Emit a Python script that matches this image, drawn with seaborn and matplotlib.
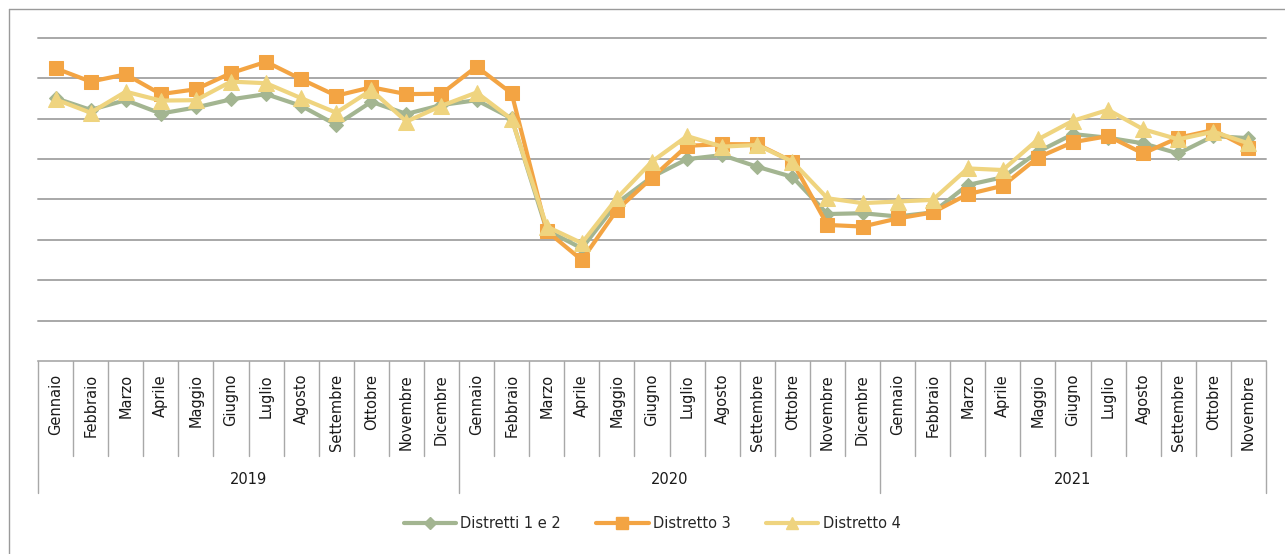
import matplotlib
matplotlib.use("Agg")
import matplotlib.pyplot as plt
import matplotlib.transforms as mtransforms
from matplotlib.lines import Line2D
import numpy as np
import pandas as pd
import seaborn as sns

# Month / year categories
months = ["Gennaio", "Febbraio", "Marzo", "Aprile", "Maggio", "Giugno",
          "Luglio", "Agosto", "Settembre", "Ottobre", "Novembre", "Dicembre"]
years = ["2019", "2020", "2021"]
months_per_year = [12, 12, 11]

# Series values (one per month)
distretti_1_2 = [65.1, 62.2, 64.6, 61.3, 62.8, 64.8, 66.1, 63.2, 58.5, 64.2, 61.2, 63.4,
                 64.6, 60.1, 32.4, 27.9, 39.1, 45.6, 50.0, 51.0, 48.1, 45.6, 36.4, 36.6,
                 35.8, 36.8, 43.6, 45.5, 51.8, 56.2, 55.3, 53.9, 51.4, 55.7, 55.2]
distretto_3 = [72.5, 69.2, 71.0, 66.1, 67.3, 71.3, 74.1, 69.8, 65.7, 67.8, 66.1, 66.2,
               72.9, 66.3, 32.2, 25.0, 37.4, 45.4, 53.3, 53.7, 53.7, 49.4, 33.7, 33.3,
               35.3, 36.8, 41.3, 43.4, 50.4, 54.2, 55.7, 51.4, 55.3, 57.2, 52.7]
distretto_4 = [64.8, 61.5, 66.7, 64.5, 64.6, 69.2, 68.8, 65.1, 61.5, 67.1, 59.3, 63.2,
               66.5, 59.9, 33.3, 29.2, 40.3, 49.4, 55.7, 53.1, 53.5, 49.4, 40.3, 39.1,
               39.5, 39.9, 47.7, 47.3, 54.9, 59.5, 62.2, 57.4, 54.9, 56.8, 53.9]

series_names = ["Distretti 1 e 2", "Distretto 3", "Distretto 4"]

month_labels = []
year_of = []
for y, n in zip(years, months_per_year):
    month_labels += months[:n]
    year_of += [y] * n
idx = np.arange(len(month_labels))

df = pd.DataFrame({
    "i": np.tile(idx, 3),
    "valore": distretti_1_2 + distretto_3 + distretto_4,
    "serie": np.repeat(series_names, len(idx)),
})

colors = {"Distretti 1 e 2": "#A3B591", "Distretto 3": "#F3A443", "Distretto 4": "#EFD47F"}
markers = {"Distretti 1 e 2": "D", "Distretto 3": "s", "Distretto 4": "^"}
msizes = {"Distretti 1 e 2": 7.5, "Distretto 3": 10, "Distretto 4": 11}

sns.set_style("white")
plt.rcParams["font.family"] = ["DejaVu Sans"]

fig = plt.figure(figsize=(12.85, 5.54), dpi=100)
ax = fig.add_axes([38 / 1285, 193 / 554, 1228 / 1285, 323 / 554])

for name in series_names:
    sns.lineplot(data=df[df["serie"] == name], x="i", y="valore", ax=ax,
                 color=colors[name], marker=markers[name], markersize=msizes[name],
                 markeredgecolor=colors[name], linewidth=3.0, label=name,
                 legend=False)

ax.set_xlim(-0.5, len(idx) - 0.5)
ax.set_ylim(0, 80)
ax.set_yticks(np.arange(10, 81, 10))
ax.yaxis.grid(True, color="#A8A8A8", linewidth=1.4)
ax.set_axisbelow(True)
ax.set_yticklabels([])
ax.tick_params(left=False, bottom=False, labelbottom=False)
ax.set_xticks([])
ax.set_xlabel("")
ax.set_ylabel("")
for s in ["left", "right", "top"]:
    ax.spines[s].set_visible(False)
ax.spines["bottom"].set_color("#A8A8A8")
ax.spines["bottom"].set_linewidth(1.2)
for gl in ax.get_ygridlines():
    gl.set_clip_on(False)

# Two-level category axis: month cells and year groups
trans = mtransforms.blended_transform_factory(ax.transData, ax.transAxes)
month_bottom = -95 / 323
year_bottom = -132 / 323
group_edges = np.cumsum([0] + months_per_year) - 0.5
for b in np.arange(len(idx) + 1) - 0.5:
    low = year_bottom if np.any(np.isclose(group_edges, b)) else month_bottom
    ax.plot([b, b], [0, low], transform=trans, color="#A8A8A8",
            linewidth=1.0, clip_on=False)
for i, lab in zip(idx, month_labels):
    ax.text(i, -13 / 323, lab, transform=trans, rotation=90, ha="center",
            va="top", fontsize=10.5, color="#1a1a1a")
for k, y in enumerate(years):
    center = (group_edges[k] + group_edges[k + 1]) / 2
    ax.text(center, -119 / 323, y, transform=trans, ha="center", va="center",
            fontsize=10.5, color="#1a1a1a")

# Legend below the category axis
handles = [Line2D([0], [0], color=colors[n], marker=markers[n], linewidth=3.0,
                  markersize=msizes[n] * 0.85, markeredgecolor=colors[n])
           for n in series_names]
fig.legend(handles, series_names, loc="center", ncol=3, frameon=False,
           bbox_to_anchor=(652 / 1285, 1 - 524 / 554), fontsize=10.5,
           handlelength=3.6, columnspacing=2.4, handletextpad=0.3)

# Chart frame
fig.add_artist(Line2D([8.5 / 1285, 8.5 / 1285], [0, 1 - 8.5 / 554],
                      transform=fig.transFigure, color="#9A9A9A", linewidth=1.0))
fig.add_artist(Line2D([8.5 / 1285, 1], [1 - 8.5 / 554, 1 - 8.5 / 554],
                      transform=fig.transFigure, color="#9A9A9A", linewidth=1.0))

fig.savefig("out.png", dpi=100, facecolor="white")
